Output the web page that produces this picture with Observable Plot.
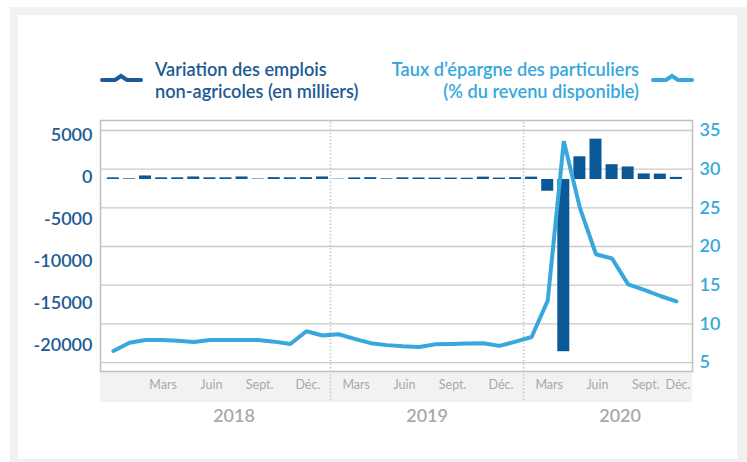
<!DOCTYPE html>
<html>
<head>
<meta charset="utf-8">
<script src="https://cdn.jsdelivr.net/npm/d3@7"></script>
<script src="https://cdn.jsdelivr.net/npm/@observablehq/plot@0.6"></script>
<style>
  html, body { margin: 0; padding: 0; background: #ffffff; }
  #wrap { position: relative; width: 747px; height: 462px; overflow: hidden; font-family: Lato, "Open Sans", sans-serif; }
  #frame { position: absolute; left: 10px; top: 7px; right: 0; bottom: 0; background: #f1f1f1; }
  #card { position: absolute; left: 18px; top: 15px; width: 719px; height: 444px; background: #ffffff; }
  #band { position: absolute; left: 100px; top: 372px; width: 592px; height: 30px; background: #f2f2f2; }
  #chart { position: absolute; left: 0; top: 0; }
  .leg { position: absolute; font-size: 18.2px; font-weight: 600; line-height: 21.5px; white-space: nowrap; }
  .sym { position: absolute; }
</style>
</head>
<body>
<div id="wrap">
  <div id="frame"></div>
  <div id="card"></div>
  <div id="band"></div>
  <div id="chart"></div>
  <svg class="sym" style="left:100px;top:73px" width="43" height="10"><polyline points="2,7 15,7 21,3 27,7 41,7" fill="none" stroke="#1b5a96" stroke-width="4" stroke-linecap="round" stroke-linejoin="miter"/></svg>
  <div class="leg" id="leg1" style="left:155px;top:59px;color:#1c5b94">Variation des emplois<br>non-agricoles (en milliers)</div>
  <div class="leg" id="leg2" style="right:108px;top:59px;color:#37a7dd;text-align:right">Taux d’épargne des particuliers<br>(% du revenu disponible)</div>
  <svg class="sym" style="left:651px;top:73px" width="43" height="10"><polyline points="2,7 15,7 21,3 27,7 41,7" fill="none" stroke="#37a7dd" stroke-width="4" stroke-linecap="round" stroke-linejoin="miter"/></svg>
</div>
<script>
// ---- data ----
const months = [
  "2017-12",
  "2018-01","2018-02","2018-03","2018-04","2018-05","2018-06","2018-07","2018-08","2018-09","2018-10","2018-11","2018-12",
  "2019-01","2019-02","2019-03","2019-04","2019-05","2019-06","2019-07","2019-08","2019-09","2019-10","2019-11","2019-12",
  "2020-01","2020-02","2020-03","2020-04","2020-05","2020-06","2020-07","2020-08","2020-09","2020-10","2020-11"
];
// Variation des emplois non-agricoles (milliers)
const jobs = [
  200,
  80, 420, 200, 200, 300, 200, 200, 300, 60, 220, 200, 220,
  300, 40, 190, 220, 80, 200, 180, 170, 170, 150, 280, 170,
  220, 280, -1400, -20500, 2700, 4800, 1760, 1490, 660, 640, 250
];
// Taux d'épargne des particuliers (% du revenu disponible)
const savings = [
  6.5,
  7.55, 7.9, 7.9, 7.8, 7.65, 7.9, 7.9, 7.9, 7.9, 7.7, 7.4, 9.05,
  8.5, 8.65, 8.05, 7.5, 7.25, 7.1, 7.0, 7.35, 7.4, 7.45, 7.5, 7.15,
  7.7, 8.3, 13.0, 33.6, 25.0, 19.0, 18.45, 15.1, 14.4, 13.6, 12.9
];
const jobTicks = [5000, 0, -5000, -10000, -15000, -20000];
const rateTicks = [35, 30, 25, 20, 15, 10, 5];
const monthTickDates = ["2018-03","2018-06","2018-09","2018-12","2019-03","2019-06","2019-09","2019-12","2020-03","2020-06","2020-09","2020-12"];
const monthTickLabels = ["Mars","Juin","Sept.","Déc.","Mars","Juin","Sept.","Déc.","Mars","Juin","Sept.","Déc."];
const years = ["2018","2019","2020"];

// ---- helpers ----
const idx = s => { const [y, m] = s.split("-").map(Number); return (y - 2017) * 12 + (m - 12); };
// left axis (jobs) mapped onto the right-axis (savings) scale
const toV = j => 28.664 + j / 920.7;

const data = months.map((m, i) => ({m, i: idx(m), jobs: jobs[i], rate: savings[i]}));
const mticks = monthTickDates.map((d, k) => ({i: idx(d), label: monthTickLabels[k], last: k === monthTickDates.length - 1}));
const dividers = years.slice(1).map(y => idx(y + "-01") + 0.5);
const yearPos = years.map(y => ({i: idx(y + "-07") + 0.5, label: y}));

const dark = "#0b5896";
const light = "#37a7dd";

const chart = Plot.plot({
  width: 747,
  height: 462,
  marginLeft: 100,
  marginRight: 55,
  marginTop: 120,
  marginBottom: 91,
  style: {background: "transparent", fontFamily: "Lato, 'Open Sans', sans-serif"},
  x: {type: "linear", domain: [-0.8, 36], axis: null},
  y: {domain: [3.84, 36.29], axis: null},
  marks: [
    Plot.ruleY(rateTicks, {stroke: "#c9c9c9", strokeWidth: 1.3}),
    Plot.ruleX(dividers, {stroke: "#c4c4c4", strokeWidth: 1.5, strokeDasharray: "1.5,2", insetTop: 2, insetBottom: -31}),
    Plot.frame({stroke: "#bfbfbf", strokeWidth: 1.5}),
    Plot.rect(data, {x1: d => d.i - 0.373, x2: d => d.i + 0.373, y1: () => toV(0), y2: d => toV(d.jobs), fill: dark}),
    Plot.line(data, {x: "i", y: "rate", stroke: light, strokeWidth: 4, strokeLinejoin: "miter", strokeLinecap: "round"}),
    Plot.text(jobTicks, {y: d => toV(d), text: d => String(d), frameAnchor: "left", textAnchor: "end", dx: -8, dy: -2, fill: "#1c5b94", fontSize: 18, fontWeight: 600}),
    Plot.text(rateTicks, {y: d => d, text: d => String(d), frameAnchor: "right", textAnchor: "start", dx: 7, fill: light, fontSize: 18, fontWeight: 600}),
    Plot.text(mticks.filter(d => !d.last), {x: "i", text: "label", frameAnchor: "bottom", dy: 17, dx: 1.5, fill: "#a9a9a9", fontSize: 12.5}),
    Plot.text(mticks.filter(d => d.last), {x: "i", text: "label", frameAnchor: "bottom", dy: 17, dx: -2, textAnchor: "end", fill: "#a9a9a9", fontSize: 12.5}),
    Plot.text(yearPos, {x: "i", text: "label", frameAnchor: "bottom", dy: 50, fill: "#a9a9a9", fontSize: 18, fontWeight: 600})
  ]
});
document.getElementById("chart").appendChild(chart);
</script>
</body>
</html>
